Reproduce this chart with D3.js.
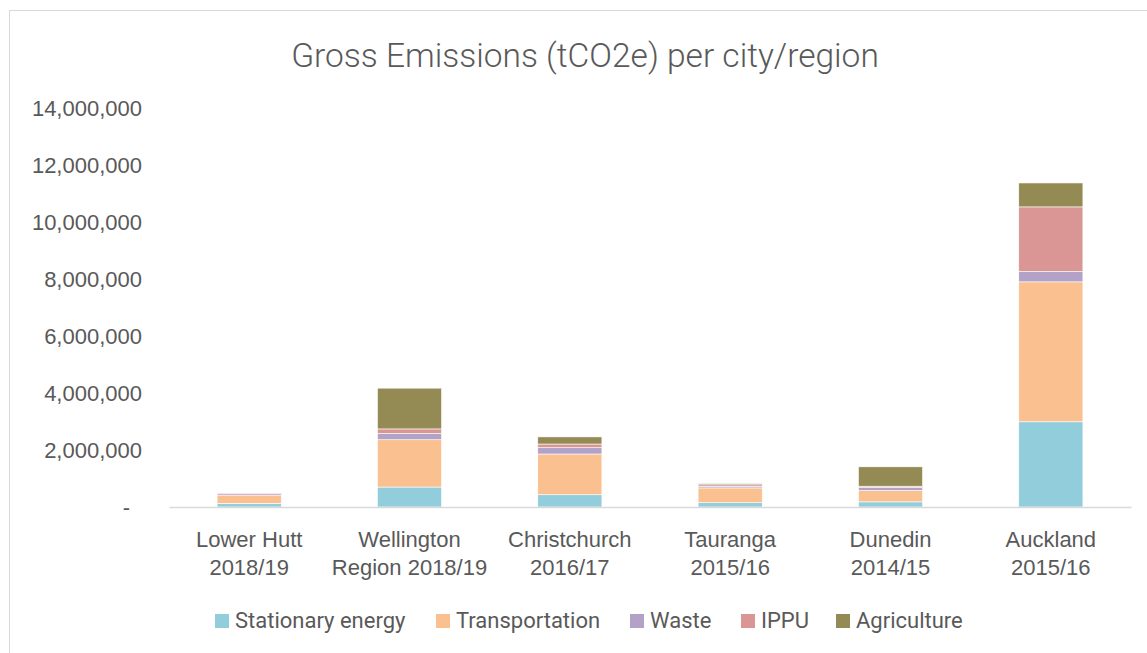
<!DOCTYPE html>
<meta charset="utf-8">
<style>
body { margin: 0; background: #fff; }
svg { font-family: Roboto, 'Noto Sans', sans-serif; display: block; }
.axis text { fill: #595959; font-size: 22px; }
</style>
<body>
<svg width="1147" height="653"></svg>
<script src="https://d3js.org/d3.v7.min.js"></script>
<script>
// values (tCO2e)
var cities = ["Lower Hutt|2018/19", "Wellington|Region 2018/19", "Christchurch|2016/17",
              "Tauranga|2015/16", "Dunedin|2014/15", "Auckland|2015/16"]
var sectors = ["Stationary energy", "Transportation", "Waste", "IPPU", "Agriculture"]
var colors = ["#92cddc", "#fac090", "#b3a2c7", "#d99694", "#948a54"]

var stationary = [130000, 700000, 430000, 150000, 180000, 2990000]
var transport = [290000, 1660000, 1430000, 520000, 400000, 4910000]
var waste = [50000, 220000, 220000, 60000, 100000, 360000]
var ippu = [30000, 160000, 130000, 50000, 50000, 2270000]
var agriculture = [20000, 1430000, 250000, 40000, 680000, 840000]

var yTicks = [0, 2000000, 4000000, 6000000, 8000000, 10000000, 12000000, 14000000]

var rows = cities.map(function (c, i) {
    return {
        city: c,
        "Stationary energy": stationary[i],
        "Transportation": transport[i],
        "Waste": waste[i],
        "IPPU": ippu[i],
        "Agriculture": agriculture[i]
    }
})

var svg = d3.select('svg')

// outer chart border (runs off the right and bottom of the picture)
svg.append('rect')
    .attr('x', 9.5).attr('y', 10.5)
    .attr('width', 1200).attr('height', 700)
    .attr('fill', 'none')
    .attr('stroke', '#d9d9d9')

svg.append('text')
    .attr('x', 585).attr('y', 67)
    .attr('text-anchor', 'middle')
    .attr('fill', '#595959')
    .style('font-size', '33.5px')
    .style('font-weight', 300)
    .text('Gross Emissions (tCO2e) per city/region')

var x = d3.scaleBand().domain(cities).range([169, 1131]).paddingInner(0.6).paddingOuter(0.3)
var y = d3.scaleLinear().domain([0, 14000000]).range([507, 108])
var color = d3.scaleOrdinal().domain(sectors).range(colors)

var stack = d3.stack().keys(sectors)(rows)

svg.append('g')
    .selectAll('g')
    .data(stack)
    .join('g')
    .attr('fill', d => color(d.key))
    .selectAll('rect')
    .data(d => d)
    .join('rect')
    .attr('x', d => x(d.data.city))
    .attr('width', x.bandwidth())
    .attr('y', d => y(d[1]))
    .attr('height', d => y(d[0]) - y(d[1]))
    .attr('stroke', '#fff')
    .attr('stroke-width', 0.6)

// y axis labels, no line
var yAxis = svg.append('g')
    .attr('class', 'axis')
    .attr('transform', 'translate(142,0)')
    .call(d3.axisLeft(y).tickValues(yTicks).tickSize(0).tickPadding(0)
        .tickFormat(d => d === 0 ? '-' : d3.format(',')(d)))
yAxis.select('.domain').remove()
yAxis.selectAll('text').attr('dy', '0.36em')
yAxis.selectAll('.tick').filter(d => d === 0).select('text').attr('dx', -12)

// category axis
var xAxis = svg.append('g')
    .attr('class', 'axis')
    .attr('transform', 'translate(0,507)')
    .call(d3.axisBottom(x).tickSize(0).tickFormat(''))
xAxis.select('.domain').attr('stroke', '#d9d9d9').attr('stroke-width', 1.5)
xAxis.selectAll('.tick').each(function (d) {
    var t = d3.select(this).append('text')
        .attr('text-anchor', 'middle')
        .attr('fill', '#595959')
    d.split('|').forEach(function (line, i) {
        t.append('tspan').attr('x', 0).attr('y', 40 + i * 28).text(line)
    })
})

// legend
var legendX = [215, 436, 630, 741, 836]
var legend = svg.append('g')
    .selectAll('g')
    .data(sectors)
    .join('g')
    .attr('transform', (d, i) => 'translate(' + legendX[i] + ',614)')
legend.append('rect')
    .attr('width', 14).attr('height', 14)
    .attr('fill', d => color(d))
legend.append('text')
    .attr('x', 20).attr('y', 14)
    .attr('fill', '#595959')
    .style('font-size', '22px')
    .text(d => d)
</script>
</body>
